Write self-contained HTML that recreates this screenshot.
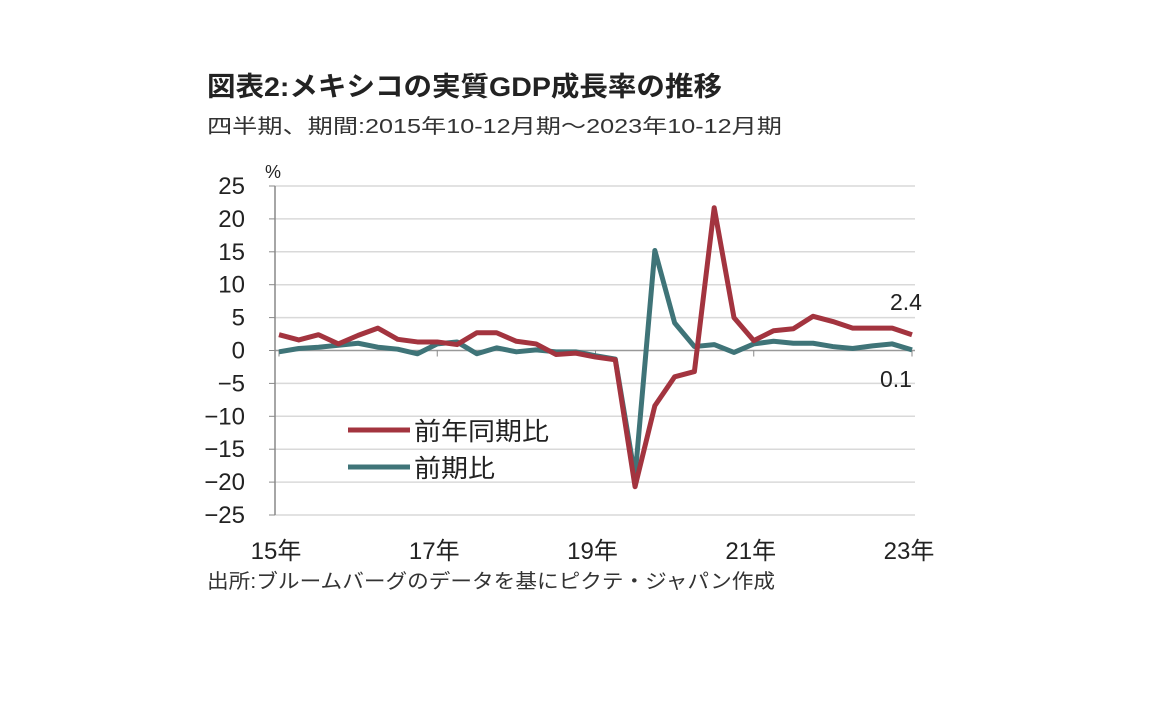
<!DOCTYPE html>
<html><head><meta charset="utf-8"><style>
body{margin:0;background:#fff;width:1152px;height:720px;overflow:hidden;font-family:"Liberation Sans","Noto Sans CJK JP",sans-serif;}
</style></head><body>
<svg width="1152" height="720" font-family="Liberation Sans, Noto Sans CJK JP, sans-serif">
<text x="207" y="96" font-size="27" font-weight="bold" fill="#222" textLength="515" lengthAdjust="spacingAndGlyphs">図表2:メキシコの実質GDP成長率の推移</text>
<text x="207" y="133" font-size="20" fill="#333" textLength="575" lengthAdjust="spacingAndGlyphs">四半期、期間:2015年10-12月期～2023年10-12月期</text>
<text x="265" y="178" font-size="18" fill="#222">%</text>
<g id="grid"></g><g id="yt"></g><g id="xt"></g><g id="series"></g>
<g>
<line x1="348" y1="430" x2="410" y2="430" stroke="#A3343F" stroke-width="5"/>
<text x="414" y="440" font-size="25" fill="#222" textLength="135" lengthAdjust="spacingAndGlyphs">前年同期比</text>
<line x1="348" y1="467" x2="410" y2="467" stroke="#3F7478" stroke-width="5"/>
<text x="414" y="477" font-size="25" fill="#222" textLength="81" lengthAdjust="spacingAndGlyphs">前期比</text>
</g>
<text x="890" y="310" font-size="23" fill="#222">2.4</text>
<text x="880" y="387" font-size="23" fill="#222">0.1</text>
<text x="207" y="588" font-size="20" fill="#333" textLength="568" lengthAdjust="spacingAndGlyphs">出所:ブルームバーグのデータを基にピクテ・ジャパン作成</text>
</svg>
<script>
const yoy=[2.4,1.6,2.4,1.0,2.3,3.4,1.7,1.3,1.3,0.9,2.7,2.7,1.4,1.0,-0.6,-0.4,-1.0,-1.4,-20.7,-8.4,-4.0,-3.2,21.7,5.0,1.5,3.0,3.3,5.2,4.4,3.4,3.4,3.4,2.4];
const qoq=[-0.2,0.3,0.5,0.8,1.1,0.5,0.2,-0.5,1.0,1.3,-0.5,0.4,-0.2,0.1,-0.2,-0.2,-0.8,-1.3,-19.2,15.2,4.2,0.6,0.9,-0.3,1.0,1.4,1.1,1.1,0.6,0.3,0.7,1.0,0.1];
const yTicks=[25,20,15,10,5,0,-5,-10,-15,-20,-25];
const xLabels=["15年","17年","19年","21年","23年"];
const xLabelIdx=[0,8,16,24,32];
const NS="http://www.w3.org/2000/svg";
const X0=279,X1=912,Y25=186,Ym25=515;
const xs=i=>X0+(X1-X0)*i/32;
const ys=v=>Y25+(25-v)*(Ym25-Y25)/50;
function mk(tag,attrs,parent,txt){const e=document.createElementNS(NS,tag);for(const k in attrs)e.setAttribute(k,attrs[k]);if(txt!==undefined)e.textContent=txt;document.getElementById(parent).appendChild(e);return e;}
yTicks.forEach(v=>{
 const g=mk("line",{x1:275,x2:915,y1:ys(v),y2:ys(v),stroke:v===0?"#999":"#d9d9d9","stroke-width":1.5},"grid");
 
 
 const t=mk("line",{x1:269,x2:275,y1:ys(v),y2:ys(v),stroke:"#888"},"grid");
 
 
 const l=mk("text",{x:245,y:ys(v)+8,"font-size":24,"text-anchor":"end",fill:"#222"},"yt",v<0?"−"+(-v):String(v));
 
 
});
const ax=mk("line",{x1:275,x2:275,y1:186,y2:515,stroke:"#888","stroke-width":1.5},"grid");


xLabelIdx.forEach((idx,k)=>{
 const tk=mk("line",{x1:xs(idx),x2:xs(idx),y1:ys(0),y2:ys(0)+6,stroke:"#888"},"xt");
 
 
 const l=mk("text",{x:xs(idx)-3,y:559,"font-size":24,"text-anchor":"middle",fill:"#222"},"xt",xLabels[k]);
 
 
});
function line(arr,color,name){
 const p=mk("polyline",{points:arr.map((v,i)=>xs(i)+","+ys(v)).join(" "),fill:"none",stroke:color,"stroke-width":5,"stroke-linejoin":"round"},"series");
 
 
}
line(qoq,"#3F7478","qoq-line");
line(yoy,"#A3343F","yoy-line");
</script>
</body></html>
